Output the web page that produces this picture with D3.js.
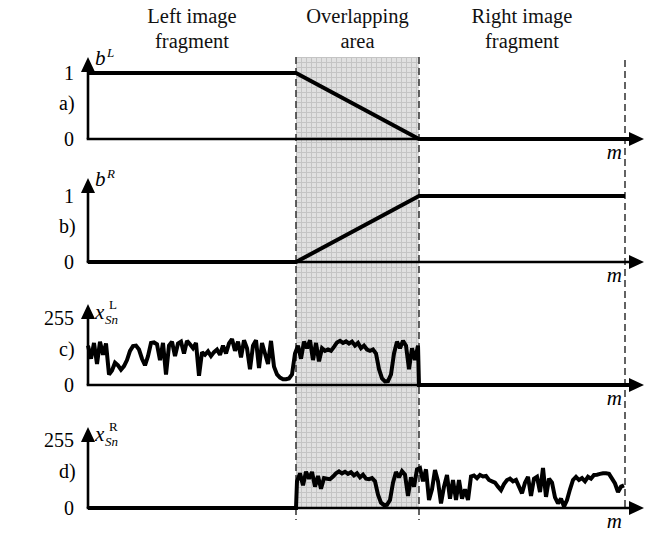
<!DOCTYPE html>
<html>
<head>
<meta charset="utf-8">
<script src="https://cdn.jsdelivr.net/npm/d3@7"></script>
<style>
  html, body { margin: 0; padding: 0; background: #fff; }
  svg { display: block; font-family: "Liberation Serif", "Times New Roman", serif; }
</style>
</head>
<body>
<svg id="chart" width="650" height="537"></svg>
<script>
// Column headings above the three regions
const headings = [["Left image", "fragment"], ["Overlapping", "area"], ["Right image", "fragment"]];
const panelLabels = ["a)", "b)", "c)", "d)"];

// Positions along the m axis
const overlapStart = 208;
const overlapEnd = 331;
const fragmentEnd = 537;
const axisEnd = 556;

// Blending weights b^L and b^R (knot positions and values)
const weightLm = [0, overlapStart, overlapEnd, axisEnd - 14];
const weightL  = [1, 1, 0, 0];
const weightRm = [0, overlapStart, overlapEnd, fragmentEnd];
const weightR  = [0, 0, 1, 1];

// Tick labels of the weight and brightness axes
const weightTicks = [0, 1];
const brightnessTicks = [0, 255];

// Brightness profile of the left fragment x^L_Sn, one sample every 3 steps of m from m = 0
const sampleStep = 3;
const leftStart = 0;
const leftSignal = [
  150, 100, 160, 80, 165, 115, 158, 40, 55, 85,
  75, 58, 72, 95, 130, 148, 150, 135, 100, 75,
  110, 160, 162, 155, 95, 160, 40, 150, 165, 110,
  158, 165, 120, 168, 155, 140, 160, 35, 125, 115,
  128, 110, 125, 135, 115, 150, 120, 158, 175, 130,
  165, 105, 170, 140, 60, 150, 170, 65, 160, 120,
  80, 168, 70, 40, 28, 22, 22, 25, 40, 120,
  // overlapping area
  150, 100, 165, 140, 170, 95, 160, 90, 140, 130,
  135, 130, 145, 162, 168, 160, 166, 158, 165, 150,
  160, 140, 150, 135, 130, 135, 120, 60, 25, 14,
  15, 40, 120, 165, 140, 168, 150, 60, 140, 95,
  150
];

// Brightness profile of the right fragment x^R_Sn, same spacing, starting at the overlap
const rightStart = 209;
const rightSignal = [
  // overlapping area
  100, 130, 85, 136, 110, 135, 80, 120, 72, 112,
  110, 108, 118, 130, 137, 130, 136, 128, 134, 122,
  130, 115, 125, 110, 108, 112, 100, 50, 20, 11,
  12, 30, 95, 135, 115, 138, 125, 45, 115, 80,
  145,
  // rest of the right fragment
  150, 100, 145, 30, 70, 142, 100, 17, 80, 124,
  35, 105, 30, 105, 35, 70, 30, 118, 122, 112,
  124, 118, 120, 105, 100, 95, 80, 67, 90, 105,
  110, 100, 105, 80, 55, 95, 117, 45, 110, 117,
  60, 150, 42, 110, 95, 40, 17, 35, 5, 30,
  70, 105, 117, 105, 112, 100, 117, 110, 124, 125,
  128, 130, 130, 128, 110, 92, 60, 80, 85
];

const svg = d3.select("#chart");
const x = d3.scaleLinear().domain([0, axisEnd]).range([88, 644]);

// Vertical layout of the four stacked panels
const panels = [
  { label: panelLabels[0], zero: 139, top: 73,  max: 1,   ticks: weightTicks,     tip: 57,  name: "b", sup: "L", supItalic: true,  sub: null },
  { label: panelLabels[1], zero: 262, top: 196, max: 1,   ticks: weightTicks,     tip: 178, name: "b", sup: "R", supItalic: true,  sub: null },
  { label: panelLabels[2], zero: 385, top: 318, max: 255, ticks: brightnessTicks, tip: 304, name: "x", sup: "L", supItalic: false, sub: "Sn" },
  { label: panelLabels[3], zero: 508, top: 440, max: 255, ticks: brightnessTicks, tip: 427, name: "x", sup: "R", supItalic: false, sub: "Sn" }
];
panels.forEach(p => { p.y = d3.scaleLinear().domain([0, p.max]).range([p.zero, p.top]); });

// Shaded overlapping area with a fine grid
const defs = svg.append("defs");
const pat = defs.append("pattern")
  .attr("id", "grid")
  .attr("patternUnits", "userSpaceOnUse")
  .attr("x", x(overlapStart)).attr("y", 57)
  .attr("width", 5).attr("height", 5);
pat.append("rect").attr("width", 5).attr("height", 5).attr("fill", "#e0e0e0");
pat.append("path").attr("d", "M0,0.5H5M0.5,0V5")
  .attr("stroke", "#c4c4c4").attr("stroke-width", 1).attr("fill", "none");

svg.append("rect")
  .attr("x", x(overlapStart)).attr("y", 57)
  .attr("width", x(overlapEnd) - x(overlapStart))
  .attr("height", panels[3].zero - 57)
  .attr("fill", "url(#grid)");

// Dashed region borders
const dashed = [
  { m: overlapStart, y1: 57, y2: 520 },
  { m: overlapEnd,   y1: 57, y2: 520 },
  { m: fragmentEnd,  y1: 60, y2: panels[3].zero }
];
svg.selectAll("line.border").data(dashed).join("line")
  .attr("class", "border")
  .attr("x1", d => x(d.m)).attr("x2", d => x(d.m))
  .attr("y1", d => d.y1).attr("y2", d => d.y2)
  .attr("stroke", "#3c3c3c").attr("stroke-width", 1.6)
  .attr("stroke-dasharray", "7,4");

// Headings centred over each region
const headX = [
  (x(0) + x(overlapStart)) / 2,
  (x(overlapStart) + x(overlapEnd)) / 2,
  (x(overlapEnd) + x(fragmentEnd)) / 2
];
headings.forEach((lines, i) => {
  lines.forEach((t, j) => {
    svg.append("text")
      .attr("x", headX[i]).attr("y", 23 + j * 25)
      .attr("text-anchor", "middle")
      .attr("font-size", 20.5)
      .attr("fill", "#111")
      .text(t);
  });
});

const lineGen = d3.line().x(d => x(d[0])).y(d => d[1]);

panels.forEach(p => {
  const g = svg.append("g");

  // axes with arrow heads
  g.append("line")
    .attr("x1", x(0)).attr("x2", x(0))
    .attr("y1", p.zero).attr("y2", p.tip + 10)
    .attr("stroke", "#000").attr("stroke-width", 2.6);
  g.append("path")
    .attr("d", `M${x(0)},${p.tip}L${x(0) - 7},${p.tip + 15}L${x(0) + 7},${p.tip + 15}Z`)
    .attr("fill", "#000");
  g.append("line")
    .attr("x1", x(0) - 1.3).attr("x2", x(axisEnd) - 10)
    .attr("y1", p.zero).attr("y2", p.zero)
    .attr("stroke", "#000").attr("stroke-width", 2.6);
  g.append("path")
    .attr("d", `M${x(axisEnd)},${p.zero}L${x(axisEnd) - 15},${p.zero - 7}L${x(axisEnd) - 15},${p.zero + 7}Z`)
    .attr("fill", "#000");

  // tick labels
  p.ticks.forEach(t => {
    g.append("text")
      .attr("x", 74).attr("y", p.y(t))
      .attr("dy", "0.35em")
      .attr("text-anchor", "end")
      .attr("font-size", 20)
      .text(t);
  });

  // panel letter
  g.append("text")
    .attr("x", 59).attr("y", (p.y(p.max) + p.zero) / 2 - 3)
    .attr("dy", "0.35em")
    .attr("font-size", 20)
    .text(p.label);

  // axis name with indices
  const nameBase = p.max === 1 ? p.tip + 8 : p.y(p.max) + 1;
  g.append("text")
    .attr("x", x(0) + 7).attr("y", nameBase)
    .attr("font-size", 21).attr("font-style", "italic")
    .text(p.name);
  g.append("text")
    .attr("x", x(0) + (p.sub ? 21 : 19)).attr("y", nameBase - (p.sub ? 10 : 8))
    .attr("font-size", 13).attr("font-style", p.supItalic ? "italic" : "normal")
    .text(p.sup);
  if (p.sub) {
    g.append("text")
      .attr("x", x(0) + 17).attr("y", nameBase + 5)
      .attr("font-size", 13).attr("font-style", "italic")
      .text(p.sub);
  }

  // m label
  g.append("text")
    .attr("x", x(fragmentEnd) - 3).attr("y", p.zero + 20)
    .attr("text-anchor", "end")
    .attr("font-size", 21).attr("font-style", "italic")
    .text("m");
});

// Data curves
const curveStyle = sel => sel
  .attr("fill", "none").attr("stroke", "#000")
  .attr("stroke-width", 4).attr("stroke-linejoin", "miter").attr("stroke-miterlimit", 2);

const pa = panels[0], pb = panels[1], pc = panels[2], pd = panels[3];

svg.append("path")
  .datum(weightLm.map((m, i) => [m, pa.y(weightL[i])]))
  .attr("d", lineGen).call(curveStyle);

svg.append("path")
  .datum(weightRm.map((m, i) => [m, pb.y(weightR[i])]))
  .attr("d", lineGen).call(curveStyle);

const leftPts = leftSignal.map((v, i) => [leftStart + i * sampleStep, pc.y(v)]);
leftPts.push([overlapEnd, pc.y(0)], [axisEnd - 14, pc.y(0)]);
svg.append("path").datum(leftPts).attr("d", lineGen).call(curveStyle);

const rightPts = [[0, pd.y(0)], [overlapStart, pd.y(0)]]
  .concat(rightSignal.map((v, i) => [rightStart + i * sampleStep, pd.y(v)]));
svg.append("path").datum(rightPts).attr("d", lineGen).call(curveStyle);
</script>
</body>
</html>
